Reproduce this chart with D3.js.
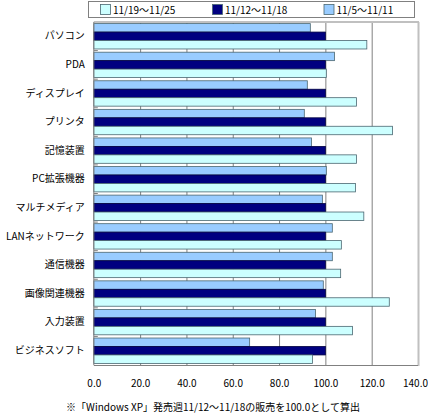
<!DOCTYPE html>
<html><head><meta charset="utf-8">
<script src="https://cdn.jsdelivr.net/npm/d3@7"></script>
<style>body{margin:0;background:#fff;} svg{display:block;font-family:"Noto Sans CJK JP","Noto Sans",sans-serif;}</style>
</head><body>
<script>
const categories = ["パソコン","PDA","ディスプレイ","プリンタ","記憶装置","PC拡張機器","マルチメディア","LANネットワーク","通信機器","画像関連機器","入力装置","ビジネスソフト"];
const seriesNames = ["11/5〜11/11","11/12〜11/18","11/19〜11/25"];
const week1 = [93.5,103.9,92.2,90.9,94.0,100.4,98.7,103.0,103.0,99.1,95.7,67.3];
const week2 = [100,100,100,100,100,100,100,100,100,100,100,100];
const week3 = [117.9,100.4,113.4,129.0,113.4,113.0,116.6,106.9,106.6,127.6,111.7,94.4];
const legendOrder = ["11/19〜11/25","11/12〜11/18","11/5〜11/11"];
const xTicks = [0,20,40,60,80,100,120,140];
const colors = {"11/5〜11/11":"#99ccff","11/12〜11/18":"#000080","11/19〜11/25":"#ccffff"};
const seriesVals = {"11/5〜11/11":week1,"11/12〜11/18":week2,"11/19〜11/25":week3};

const W=428,H=416;
const svg=d3.select("body").append("svg").attr("width",W).attr("height",H);
const x=d3.scaleLinear().domain([0,140]).range([93.8,418]);
const y0=d3.scaleBand().domain(categories).range([22,365]).padding(0);
const y1=d3.scaleBand().domain(seriesNames).range([0,y0.bandwidth()]).paddingInner(0).paddingOuter(0.19);

svg.append("rect").attr("x",x(0)).attr("y",22).attr("width",x(140)-x(0)).attr("height",343).attr("fill","#fff");
svg.append("g").selectAll("line").data(xTicks.slice(1)).join("line")
  .attr("x1",d=>x(d)+0.5).attr("x2",d=>x(d)+0.5).attr("y1",22).attr("y2",365)
  .attr("stroke","#808080").attr("stroke-width",1);
svg.append("line").attr("x1",x(0)).attr("x2",x(140)+1).attr("y1",22).attr("y2",22).attr("stroke","#c0c0c0").attr("stroke-width",2);
svg.append("line").attr("x1",x(140)+0.5).attr("x2",x(140)+0.5).attr("y1",22).attr("y2",366).attr("stroke","#c0c0c0").attr("stroke-width",2);

const g=svg.append("g");
categories.forEach((c,i)=>{
  seriesNames.forEach(s=>{
    const v=seriesVals[s][i];
    g.append("rect").attr("x",x(0)).attr("y",y0(c)+y1(s)).attr("width",x(v)-x(0)).attr("height",y1.bandwidth())
      .attr("fill",colors[s]).attr("stroke",s==="11/12〜11/18"?"#000040":"#4a6670").attr("stroke-width",0.8);
  });
});
svg.append("line").attr("x1",x(0)).attr("x2",x(0)).attr("y1",22).attr("y2",365).attr("stroke","#808080");
svg.append("line").attr("x1",x(0)).attr("x2",x(140)).attr("y1",365.5).attr("y2",365.5).attr("stroke","#808080");
svg.append("g").selectAll("line").data(categories.slice(1)).join("line")
  .attr("x1",x(0)).attr("x2",x(0)+4).attr("y1",d=>y0(d)).attr("y2",d=>y0(d)).attr("stroke","#808080");

const yAxis=d3.axisLeft(y0).tickSize(0).tickPadding(9);
const ya=svg.append("g").attr("transform",`translate(${x(0)},0)`).call(yAxis);
ya.select(".domain").remove();
ya.selectAll("text").attr("font-size",10).attr("fill","#000").style("font-family",'"Noto Sans CJK JP",sans-serif');

const xAxis=d3.axisBottom(x).tickValues(xTicks).tickFormat(d3.format(".1f")).tickSize(0).tickPadding(15);
const xa=svg.append("g").attr("transform","translate(0,365)").call(xAxis);
xa.select(".domain").remove();
xa.selectAll("text").attr("font-size",10).attr("fill","#000").style("font-family",'"Noto Sans CJK JP",sans-serif')
  .attr("dx",d=>d===140?"-3":"0");

svg.append("rect").attr("x",88.5).attr("y",1.5).attr("width",326).attr("height",16).attr("fill","#fff").attr("stroke","#808080");
const lx=[100,212,323.5];
legendOrder.forEach((s,i)=>{
  svg.append("rect").attr("x",lx[i]+0.5).attr("y",4.5).attr("width",10).attr("height",10).attr("fill",colors[s]).attr("stroke","#4a6670").attr("stroke-width",0.8);
  svg.append("text").attr("x",lx[i]+13).attr("y",13.5).attr("font-size",10).text(s);
});

svg.append("text").attr("x",213).attr("y",411).attr("text-anchor","middle").attr("font-size",10)
  .text("※「Windows XP」発売週11/12〜11/18の販売を100.0として算出");
</script>
</body></html>
